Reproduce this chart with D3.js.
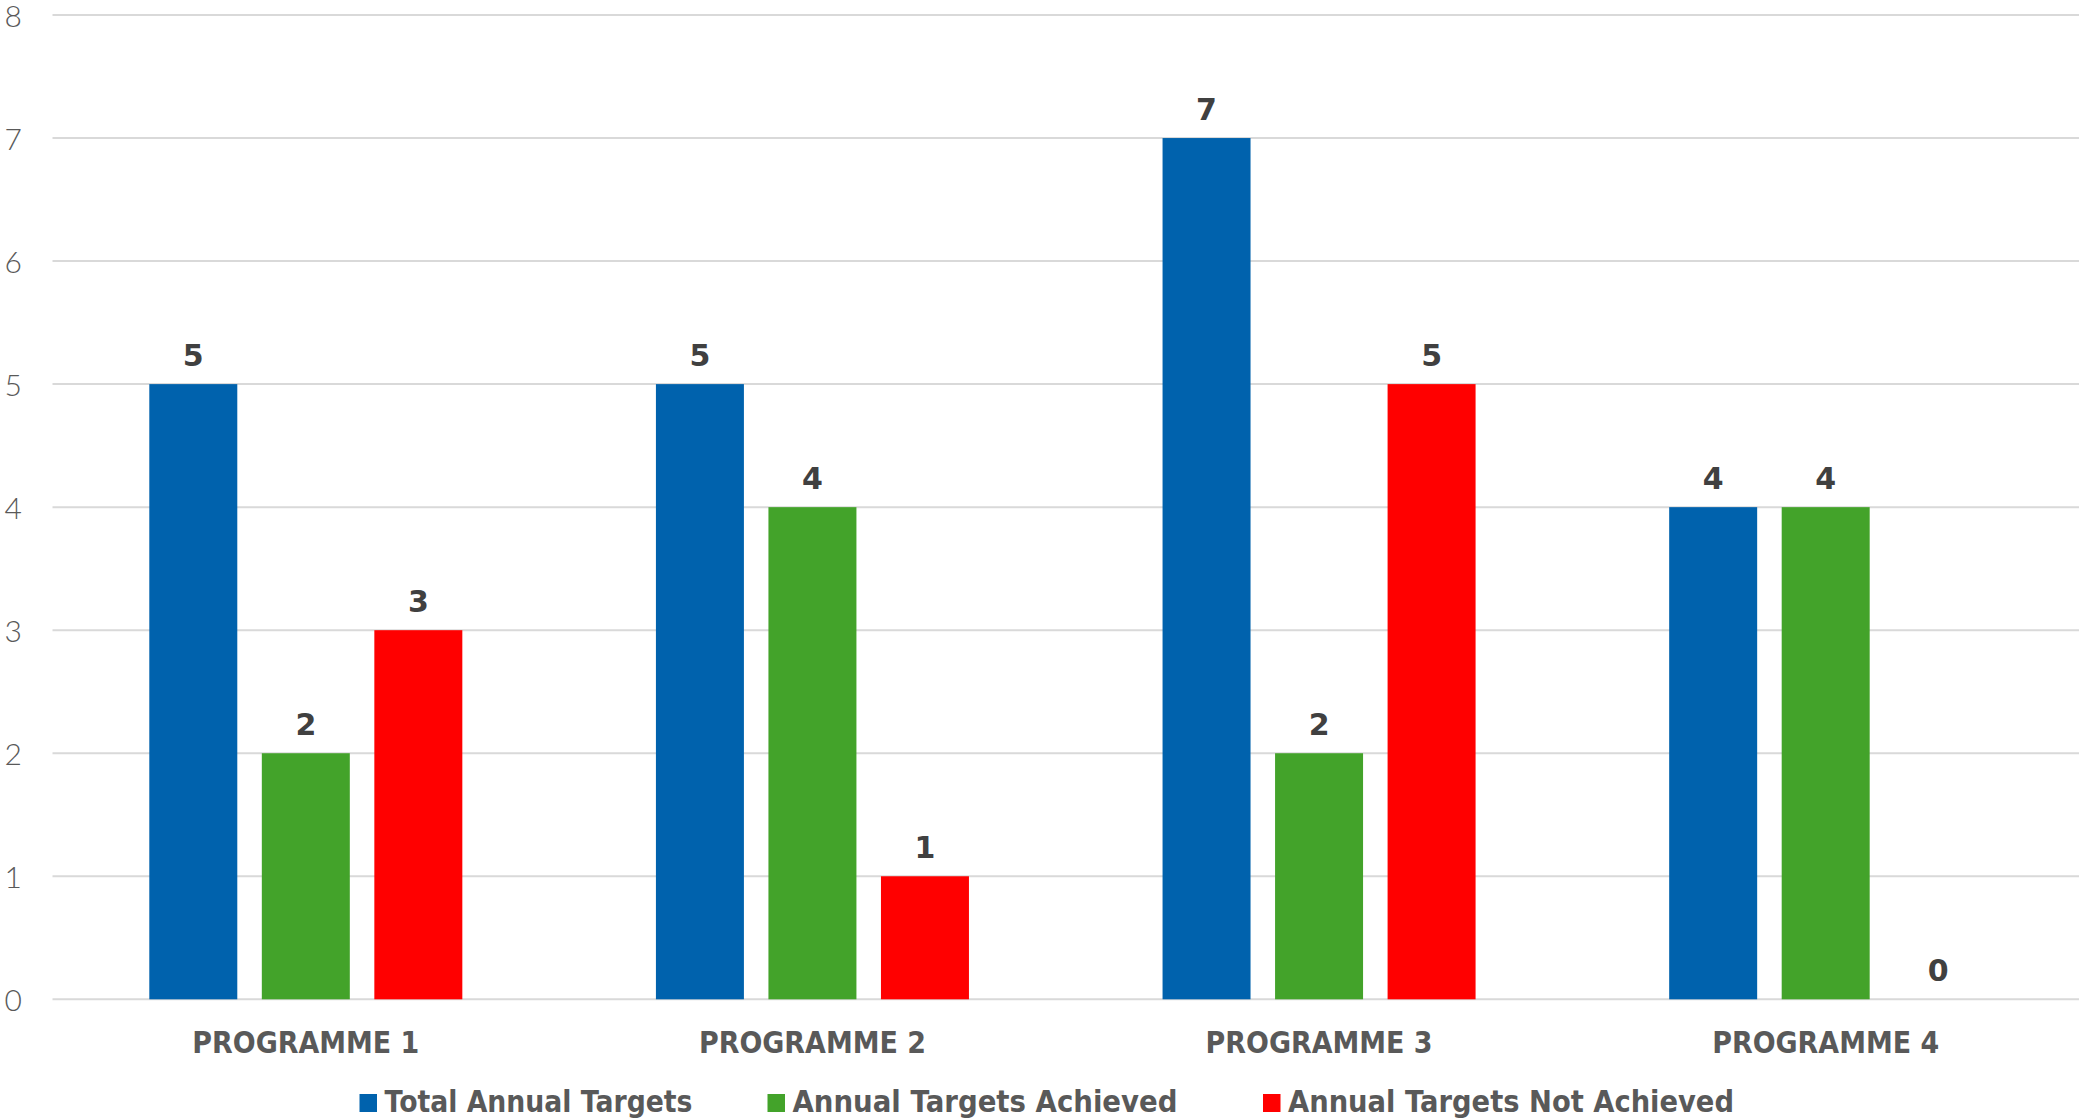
<!DOCTYPE html>
<html>
<head>
<meta charset="utf-8">
<script src="https://cdn.jsdelivr.net/npm/d3@7"></script>
<style>
  html, body { margin: 0; padding: 0; background: #ffffff; }
  svg { display: block; }
</style>
</head>
<body>
<svg id="chart" width="2079" height="1120"></svg>
<script>
// Programme targets per programme
const categories = ["PROGRAMME 1", "PROGRAMME 2", "PROGRAMME 3", "PROGRAMME 4"];
const seriesNames = ["Total Annual Targets", "Annual Targets Achieved", "Annual Targets Not Achieved"];
const totalTargets = [5, 5, 7, 4];
const targetsAchieved = [2, 4, 2, 4];
const targetsNotAchieved = [3, 1, 5, 0];
const yTicks = [0, 1, 2, 3, 4, 5, 6, 7, 8];

const seriesColors = ["#0062AD", "#43A32A", "#FF0000"];
const seriesValues = [totalTargets, targetsAchieved, targetsNotAchieved];

const plot = { left: 52.5, right: 2079, top: 15, bottom: 999.3 };
const fontMain = "'DejaVu Sans', 'Lato', sans-serif";

const svg = d3.select("#chart");

const y = d3.scaleLinear().domain([0, 8]).range([plot.bottom, plot.top]);
const x0 = d3.scaleBand().domain(categories).range([plot.left, plot.right]).padding(0);
const groupPad = 96.8;
const x1 = d3.scaleBand().domain(seriesNames)
  .range([groupPad, x0.bandwidth() - groupPad])
  .paddingInner(0.218).paddingOuter(0);

// Horizontal gridlines
svg.append("g").selectAll("line").data(yTicks).join("line")
  .attr("x1", plot.left).attr("x2", plot.right)
  .attr("y1", d => y(d)).attr("y2", d => y(d))
  .attr("stroke", "#d9d9d9").attr("stroke-width", 2);

// Y tick labels
svg.append("g").selectAll("text").data(yTicks).join("text")
  .attr("x", 22).attr("y", d => y(d))
  .attr("text-anchor", "end").attr("dominant-baseline", "central")
  .attr("font-family", "'Lato', 'DejaVu Sans', sans-serif")
  .attr("font-weight", 300)
  .attr("font-size", 30).attr("fill", "#595959")
  .text(d => d);

// Flattened bar records
const records = [];
categories.forEach((c, ci) => {
  seriesNames.forEach((s, si) => {
    records.push({ cat: c, series: s, color: seriesColors[si], value: seriesValues[si][ci] });
  });
});

const bars = svg.append("g");
bars.selectAll("rect").data(records).join("rect")
  .attr("x", d => x0(d.cat) + x1(d.series))
  .attr("y", d => y(d.value))
  .attr("width", x1.bandwidth())
  .attr("height", d => y(0) - y(d.value))
  .attr("fill", d => d.color);

// Value labels above each bar
bars.selectAll("text").data(records).join("text")
  .attr("x", d => x0(d.cat) + x1(d.series) + x1.bandwidth() / 2)
  .attr("y", d => y(d.value) - 18)
  .attr("text-anchor", "middle")
  .attr("font-family", fontMain).attr("font-weight", "bold")
  .attr("font-size", 30).attr("fill", "#404040")
  .text(d => d.value);

// Category labels
svg.append("g").selectAll("text").data(categories).join("text")
  .attr("x", d => x0(d) + x0.bandwidth() / 2)
  .attr("y", 1052.7)
  .attr("text-anchor", "middle")
  .attr("font-family", fontMain).attr("font-weight", "bold")
  .attr("font-size", 31).attr("fill", "#595959")
  .attr("textLength", 227).attr("lengthAdjust", "spacingAndGlyphs")
  .text(d => d);

// Legend
const legendX = [359.5, 767.5, 1263];
const legendTextLen = [308, 385, 446];
const legend = svg.append("g").selectAll("g").data(seriesNames).join("g")
  .attr("transform", (d, i) => `translate(${legendX[i]},0)`);
legend.append("rect")
  .attr("x", 0).attr("y", 1094).attr("width", 17.5).attr("height", 18)
  .attr("fill", (d, i) => seriesColors[i]);
legend.append("text")
  .attr("x", 25).attr("y", 1112)
  .attr("font-family", fontMain).attr("font-weight", "bold")
  .attr("font-size", 30).attr("fill", "#595959")
  .attr("textLength", (d, i) => legendTextLen[i]).attr("lengthAdjust", "spacingAndGlyphs")
  .text(d => d);
</script>
</body>
</html>
